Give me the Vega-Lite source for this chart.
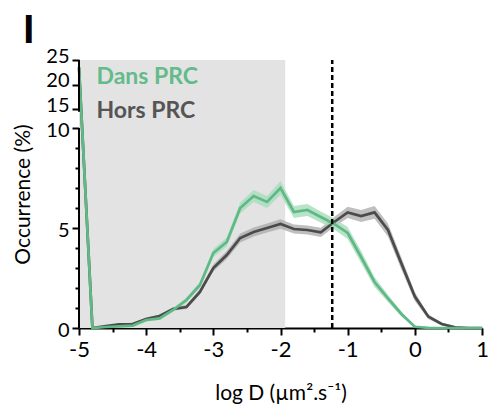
{
  "$schema": "https://vega.github.io/schema/vega-lite/v6.json",
  "width": 403,
  "height": 268,
  "autosize": "none",
  "padding": {"left": 79, "top": 60, "right": 6, "bottom": 84},
  "background": "white",
  "config": {"view": {"stroke": null}, "font": "Lato"},
  "title": {"text": "I", "anchor": "start", "frame": "group", "fontSize": 38, "fontWeight": 900, "color": "black", "baseline": "alphabetic", "offset": -35, "dx": -56},
  "datasets": {
    "shade": [{"x0": -5, "x1": -1.93, "y0": 0, "y1": 25}],
    "dans": [
      {"x": -5.0, "y": 23.5, "lo": 23.3, "hi": 23.7},
      {"x": -4.8, "y": 0, "lo": 0, "hi": 0},
      {"x": -4.6, "y": 0.05, "lo": 0.02, "hi": 0.08},
      {"x": -4.4, "y": 0.08, "lo": 0.04, "hi": 0.12},
      {"x": -4.2, "y": 0.12, "lo": 0.07, "hi": 0.18},
      {"x": -4.0, "y": 0.4, "lo": 0.33, "hi": 0.47},
      {"x": -3.8, "y": 0.48, "lo": 0.4, "hi": 0.56},
      {"x": -3.6, "y": 0.9, "lo": 0.8, "hi": 1.0},
      {"x": -3.4, "y": 1.4, "lo": 1.28, "hi": 1.52},
      {"x": -3.2, "y": 2.15, "lo": 2.0, "hi": 2.3},
      {"x": -3.0, "y": 3.75, "lo": 3.55, "hi": 3.95},
      {"x": -2.8, "y": 4.3, "lo": 4.08, "hi": 4.52},
      {"x": -2.6, "y": 6.0, "lo": 5.72, "hi": 6.28},
      {"x": -2.4, "y": 6.6, "lo": 6.3, "hi": 6.9},
      {"x": -2.2, "y": 6.3, "lo": 6.0, "hi": 6.6},
      {"x": -2.0, "y": 7.0, "lo": 6.65, "hi": 7.35},
      {"x": -1.8, "y": 5.8, "lo": 5.5, "hi": 6.1},
      {"x": -1.6, "y": 5.9, "lo": 5.6, "hi": 6.2},
      {"x": -1.4, "y": 5.55, "lo": 5.27, "hi": 5.83},
      {"x": -1.2, "y": 5.2, "lo": 4.93, "hi": 5.47},
      {"x": -1.0, "y": 4.75, "lo": 4.45, "hi": 5.05},
      {"x": -0.8, "y": 3.55, "lo": 3.25, "hi": 3.85},
      {"x": -0.6, "y": 2.3, "lo": 2.05, "hi": 2.55},
      {"x": -0.4, "y": 1.48, "lo": 1.3, "hi": 1.66},
      {"x": -0.2, "y": 0.7, "lo": 0.58, "hi": 0.82},
      {"x": 0.0, "y": 0.06, "lo": 0.02, "hi": 0.1},
      {"x": 0.2, "y": 0.01, "lo": 0, "hi": 0.03},
      {"x": 0.4, "y": 0, "lo": 0, "hi": 0},
      {"x": 0.6, "y": 0, "lo": 0, "hi": 0},
      {"x": 0.8, "y": 0, "lo": 0, "hi": 0},
      {"x": 1.0, "y": 0, "lo": 0, "hi": 0}
    ],
    "hors": [
      {"x": -5.0, "y": 23.5, "lo": 23.3, "hi": 23.7},
      {"x": -4.8, "y": 0, "lo": 0, "hi": 0},
      {"x": -4.6, "y": 0.1, "lo": 0.06, "hi": 0.14},
      {"x": -4.4, "y": 0.18, "lo": 0.12, "hi": 0.24},
      {"x": -4.2, "y": 0.2, "lo": 0.14, "hi": 0.26},
      {"x": -4.0, "y": 0.45, "lo": 0.38, "hi": 0.52},
      {"x": -3.8, "y": 0.6, "lo": 0.52, "hi": 0.68},
      {"x": -3.6, "y": 0.95, "lo": 0.86, "hi": 1.04},
      {"x": -3.4, "y": 1.05, "lo": 0.95, "hi": 1.15},
      {"x": -3.2, "y": 1.8, "lo": 1.67, "hi": 1.93},
      {"x": -3.0, "y": 3.0, "lo": 2.82, "hi": 3.18},
      {"x": -2.8, "y": 3.65, "lo": 3.45, "hi": 3.85},
      {"x": -2.6, "y": 4.5, "lo": 4.28, "hi": 4.72},
      {"x": -2.4, "y": 4.8, "lo": 4.57, "hi": 5.03},
      {"x": -2.2, "y": 5.0, "lo": 4.77, "hi": 5.23},
      {"x": -2.0, "y": 5.2, "lo": 4.96, "hi": 5.44},
      {"x": -1.8, "y": 4.95, "lo": 4.72, "hi": 5.18},
      {"x": -1.6, "y": 4.9, "lo": 4.67, "hi": 5.13},
      {"x": -1.4, "y": 4.78, "lo": 4.55, "hi": 5.01},
      {"x": -1.2, "y": 5.3, "lo": 5.05, "hi": 5.55},
      {"x": -1.0, "y": 5.78, "lo": 5.5, "hi": 6.06},
      {"x": -0.8, "y": 5.6, "lo": 5.3, "hi": 5.9},
      {"x": -0.6, "y": 5.78, "lo": 5.46, "hi": 6.1},
      {"x": -0.4, "y": 4.9, "lo": 4.58, "hi": 5.22},
      {"x": -0.2, "y": 3.23, "lo": 2.93, "hi": 3.53},
      {"x": 0.0, "y": 1.57, "lo": 1.35, "hi": 1.79},
      {"x": 0.2, "y": 0.57, "lo": 0.45, "hi": 0.69},
      {"x": 0.4, "y": 0.2, "lo": 0.13, "hi": 0.27},
      {"x": 0.6, "y": 0.03, "lo": 0.01, "hi": 0.06},
      {"x": 0.8, "y": 0, "lo": 0, "hi": 0.01},
      {"x": 1.0, "y": 0, "lo": 0, "hi": 0}
    ],
    "threshold": [{"x": -1.23, "y0": 0, "y1": 25}],
    "yaxisline": [{"x": -5, "y0": 0, "y1": 10}, {"x": -5, "y0": 14.3, "y1": 25}],
    "legend": [
      {"x": -4.74, "y": 21.6, "label": "Dans PRC"},
      {"x": -4.74, "y": 14.5, "label": "Hors PRC"}
    ]
  },
  "layer": [
    {
      "data": {"name": "shade"},
      "mark": {"type": "rect", "color": "#e3e3e3"},
      "encoding": {
        "x": {"field": "x0", "type": "quantitative", "scale": {"domain": [-5, 1], "nice": false, "zero": false},
          "axis": {"orient": "bottom", "values": [-5, -4, -3, -2, -1, 0, 1], "labelExpr": "'' + datum.value", "tickSize": 7, "tickWidth": 2, "tickColor": "black", "domain": true, "domainColor": "black", "domainWidth": 2, "grid": false, "labelFontSize": 22, "labelColor": "black", "labelPadding": 4, "labelFlush": false, "labelOverlap": false, "labelBound": false, "title": "log D (µm².s⁻¹)", "titleFontSize": 21, "titleFontWeight": "normal", "titleColor": "black", "titlePadding": 22}},
        "x2": {"field": "x1"},
        "y": {"field": "y0", "type": "quantitative", "scale": {"domain": [0, 10, 15, 25], "range": [268, 68, 49, 0], "nice": false, "zero": false},
          "axis": {"orient": "left", "values": [0, 5, 10], "tickSize": 7, "tickWidth": 2, "tickColor": "black", "domain": false, "grid": false, "labelFontSize": 20, "labelColor": "black", "labelPadding": 3, "labelOffset": 2, "labelFlush": false, "labelOverlap": false, "labelBound": false, "title": "Occurrence (%)", "titleFontSize": 21, "titleFontWeight": "normal", "titleColor": "black", "titlePadding": 12}},
        "y2": {"field": "y1"}
      }
    },
    {
      "data": {"name": "hors"},
      "mark": {"type": "area", "color": "#a9a9a9", "opacity": 0.75},
      "encoding": {
        "x": {"field": "x", "type": "quantitative", "scale": {"domain": [-5, 1], "nice": false, "zero": false},
          "axis": {"orient": "bottom", "values": [-4.5, -3.5, -2.5, -1.5, -0.5, 0.5], "tickSize": 4, "tickWidth": 2, "tickColor": "black", "domain": false, "grid": false, "labels": false, "title": null}},
        "y": {"field": "lo", "type": "quantitative", "scale": {"domain": [0, 10, 15, 25], "range": [268, 68, 49, 0], "nice": false, "zero": false},
          "axis": {"orient": "left", "values": [1, 2, 3, 4, 6, 7, 8, 9], "tickSize": 4, "tickWidth": 2, "tickColor": "black", "domain": false, "grid": false, "labels": false, "title": null}},
        "y2": {"field": "hi"}
      }
    },
    {
      "data": {"name": "dans"},
      "mark": {"type": "area", "color": "#a8dcbb", "opacity": 0.8},
      "encoding": {
        "x": {"field": "x", "type": "quantitative", "scale": {"domain": [-5, 1], "nice": false, "zero": false}, "axis": null},
        "y": {"field": "lo", "type": "quantitative", "scale": {"domain": [0, 10, 15, 25], "range": [268, 68, 49, 0], "nice": false, "zero": false},
          "axis": {"orient": "left", "values": [15, 20, 25], "tickSize": 7, "tickWidth": 2, "tickColor": "black", "domain": false, "grid": false, "labelFontSize": 20, "labelColor": "black", "labelPadding": 3, "labelOffset": -4, "labelFlush": false, "labelOverlap": false, "labelBound": false, "title": null}},
        "y2": {"field": "hi"}
      }
    },
    {
      "data": {"name": "hors"},
      "mark": {"type": "line", "color": "#4b4b4b", "strokeWidth": 2.7},
      "encoding": {
        "x": {"field": "x", "type": "quantitative", "scale": {"domain": [-5, 1], "nice": false, "zero": false}, "axis": null},
        "y": {"field": "y", "type": "quantitative", "scale": {"domain": [0, 10, 15, 25], "range": [268, 68, 49, 0], "nice": false, "zero": false}, "axis": null}
      }
    },
    {
      "data": {"name": "dans"},
      "mark": {"type": "line", "color": "#5fb985", "strokeWidth": 2.7},
      "encoding": {
        "x": {"field": "x", "type": "quantitative", "scale": {"domain": [-5, 1], "nice": false, "zero": false}, "axis": null},
        "y": {"field": "y", "type": "quantitative", "scale": {"domain": [0, 10, 15, 25], "range": [268, 68, 49, 0], "nice": false, "zero": false}, "axis": null}
      }
    },
    {
      "data": {"name": "threshold"},
      "mark": {"type": "rule", "color": "black", "strokeWidth": 2.5, "strokeDash": [5, 3]},
      "encoding": {
        "x": {"field": "x", "type": "quantitative", "scale": {"domain": [-5, 1], "nice": false, "zero": false}, "axis": null},
        "y": {"field": "y0", "type": "quantitative", "scale": {"domain": [0, 10, 15, 25], "range": [268, 68, 49, 0], "nice": false, "zero": false}, "axis": null},
        "y2": {"field": "y1"}
      }
    },
    {
      "data": {"name": "yaxisline"},
      "mark": {"type": "rule", "color": "black", "strokeWidth": 2},
      "encoding": {
        "x": {"field": "x", "type": "quantitative", "scale": {"domain": [-5, 1], "nice": false, "zero": false}, "axis": null},
        "y": {"field": "y0", "type": "quantitative", "scale": {"domain": [0, 10, 15, 25], "range": [268, 68, 49, 0], "nice": false, "zero": false}, "axis": null},
        "y2": {"field": "y1"}
      }
    },
    {
      "data": {"name": "legend"},
      "mark": {"type": "text", "align": "left", "baseline": "middle", "fontSize": 23, "fontWeight": "bold"},
      "encoding": {
        "x": {"field": "x", "type": "quantitative", "scale": {"domain": [-5, 1], "nice": false, "zero": false}, "axis": null},
        "y": {"field": "y", "type": "quantitative", "scale": {"domain": [0, 10, 15, 25], "range": [268, 68, 49, 0], "nice": false, "zero": false}, "axis": null},
        "text": {"field": "label"},
        "color": {"field": "label", "type": "nominal", "scale": {"domain": ["Dans PRC", "Hors PRC"], "range": ["#64bb8a", "#555555"]}, "legend": null}
      }
    }
  ],
  "resolve": {"axis": {"x": "independent", "y": "independent"}}
}
